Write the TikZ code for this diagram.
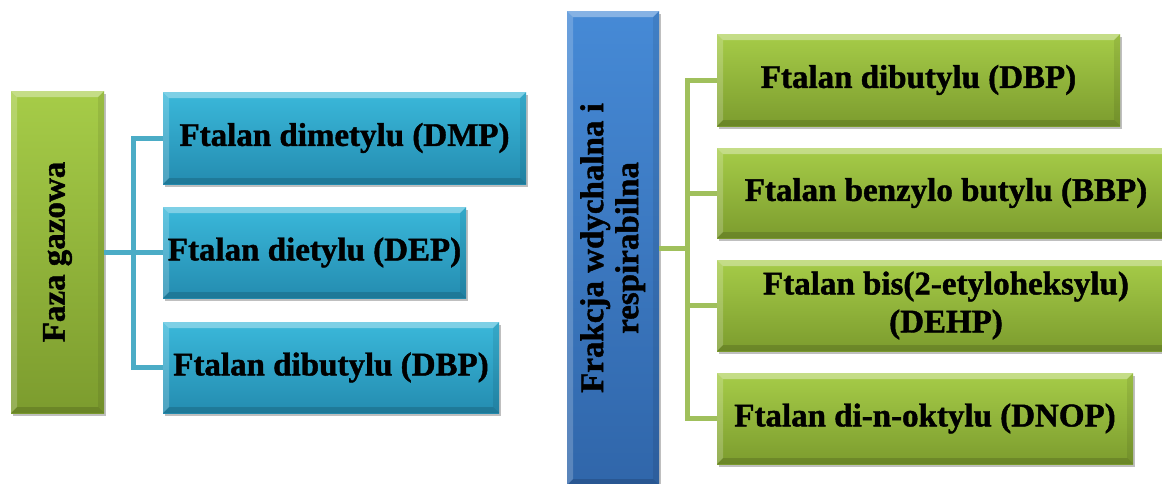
\documentclass[tikz,border=0pt]{standalone}
\usepackage{fontspec}
\setmainfont{Liberation Serif}[BoldFeatures={FakeBold=1.3}]
\usetikzlibrary{shadows}
\definecolor{aquaT}{RGB}{58,184,218}
\definecolor{aquaB}{RGB}{36,140,176}
\definecolor{greenT}{RGB}{166,204,72}
\definecolor{greenB}{RGB}{124,156,46}
\definecolor{blueT}{RGB}{70,138,214}
\definecolor{blueB}{RGB}{48,102,170}
\definecolor{aquaLine}{RGB}{75,172,198}
\definecolor{greenLine}{RGB}{160,192,92}
\tikzset{
  bevelbox/.style n args={4}{
    rectangle, anchor=north west, inner sep=0pt, outer sep=0pt,
    minimum width=#1, minimum height=#2,
    top color=#3, bottom color=#4,
    drop shadow={shadow xshift=1.5pt, shadow yshift=-2.5pt, opacity=0.25, fill=black},
    align=center, font=\bfseries\fontsize{33}{38}\selectfont,
    path picture={
      \fill[white, opacity=0.35]
        (path picture bounding box.north west) -- (path picture bounding box.north east)
        -- ([xshift=-6pt,yshift=-6pt]path picture bounding box.north east)
        -- ([xshift=6pt,yshift=-6pt]path picture bounding box.north west) -- cycle;
      \fill[white, opacity=0.2]
        (path picture bounding box.north west) -- ([xshift=6pt,yshift=-6pt]path picture bounding box.north west)
        -- ([xshift=6pt,yshift=6pt]path picture bounding box.south west)
        -- (path picture bounding box.south west) -- cycle;
      \fill[black, opacity=0.08]
        (path picture bounding box.north east) -- ([xshift=-6pt,yshift=-6pt]path picture bounding box.north east)
        -- ([xshift=-6pt,yshift=6pt]path picture bounding box.south east)
        -- (path picture bounding box.south east) -- cycle;
      \fill[black, opacity=0.14]
        (path picture bounding box.south west) -- ([xshift=6pt,yshift=6pt]path picture bounding box.south west)
        -- ([xshift=-6pt,yshift=6pt]path picture bounding box.south east)
        -- (path picture bounding box.south east) -- cycle;
    }
  },
  aquabox/.style 2 args={bevelbox={#1}{#2}{aquaT}{aquaB}},
  greenbox/.style 2 args={bevelbox={#1}{#2}{greenT}{greenB}},
  bluebox/.style 2 args={bevelbox={#1}{#2}{blueT}{blueB}},
  aquaconn/.style={draw=aquaLine, line width=5pt},
  greenconn/.style={draw=greenLine, line width=5pt},
}
\begin{document}
\begin{tikzpicture}[x=1pt,y=-1pt]
\useasboundingbox[fill=white] (0,0) rectangle (1162,483);

% left group
\node[greenbox={93pt}{322pt}] (lg) at (11,91)
  {\rotatebox{90}{Faza gazowa}};
\node[aquabox={363pt}{92pt}] (b1) at (163,92) {Ftalan dimetylu (DMP)};
\node[aquabox={303pt}{91pt}] (b2) at (163,207) {Ftalan dietylu (DEP)};
\node[aquabox={336pt}{91pt}] (b3) at (163,322) {Ftalan dibutylu (DBP)};

\coordinate (lj) at (133,252);
\draw[aquaconn] (lg.east) -- (lg.east -| b2.west);
\draw[aquaconn] (b1.west) -| (lj) |- (b3.west);

% right group
\node[bluebox={92pt}{474pt}] (rb) at (567,11)
  {\rotatebox{90}{\begin{tabular}{@{}c@{}}Frakcja wdychalna i\\[-3pt]respirabilna\end{tabular}}};
\node[greenbox={403pt}{92pt}] (g1) at (717,34) {Ftalan dibutylu (DBP)};
\node[greenbox={458pt}{90pt}] (g2) at (717,148) {Ftalan benzylo butylu (BBP)};
\node[greenbox={458pt}{91pt}] (g3) at (717,260) {Ftalan bis(2-etyloheksylu)\\(DEHP)};
\node[greenbox={416pt}{91pt}] (g4) at (717,373) {Ftalan di-n-oktylu (DNOP)};

\coordinate (rj) at (687,248);
\draw[greenconn] (rb.east) -- (rj);
\draw[greenconn] (g1.west) -| (rj) |- (g4.west);
\draw[greenconn] (rj |- g2.west) -- (g2.west);
\draw[greenconn] (rj |- g3.west) -- (g3.west);
\end{tikzpicture}
\end{document}
